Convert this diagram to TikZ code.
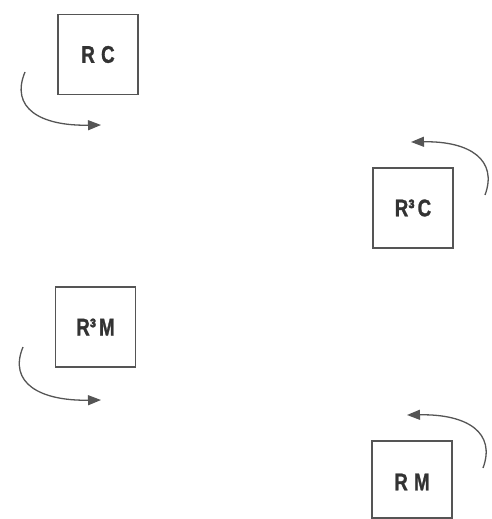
\documentclass[tikz,border=0pt]{standalone}
\usepackage{fontspec}
\setmainfont{Liberation Sans}
\newfontfamily\heavyfont{Liberation Sans Bold}[FakeBold=1.5]
\usetikzlibrary{arrows.meta}
\definecolor{boxgray}{HTML}{555555}
\definecolor{txtgray}{HTML}{333333}
\definecolor{arrgray}{HTML}{555555}
\tikzset{
  lbl/.style={text=txtgray, font=\heavyfont\fontsize{24}{28}\selectfont},
  sqbox/.style={lbl, draw=boxgray, line width=1.8pt, minimum width=80pt, minimum height=80pt, inner sep=0pt},
  turn/.style={draw=arrgray, line width=1.3pt, -{Triangle[length=13pt,width=10pt]}}
}
\begin{document}
\begin{tikzpicture}[x=1pt,y=-1pt]
\useasboundingbox (0,0) rectangle (491,519);
\node[sqbox] (rc) at (98,54.5) {\scalebox{0.78}[1]{R\,\,C}};
\node[sqbox] (r3c) at (413,208) {\scalebox{0.78}[1]{R³\,C}};
\node[sqbox] (r3m) at (95.5,327) {\scalebox{0.78}[1]{R³\,M}};
\draw[boxgray, line width=1.8pt] (372,518) -- (372,441) -- (452,441) -- (452,518) -- cycle;
\node[lbl] (rm) at (412,482) {\scalebox{0.78}[1]{R\,\,M}};
\coordinate (a1s) at (25,72);
\coordinate (a1e) at (101,125);
\coordinate (a2s) at (485,195);
\coordinate (a2e) at (411,142);
\coordinate (a3s) at (23,347);
\coordinate (a3e) at (101,400);
\coordinate (a4s) at (483,468);
\coordinate (a4e) at (407,415);
\draw[turn] (a1s) .. controls (10,108) and (40,126) .. (a1e);
\draw[turn] (a3s) .. controls (8,383) and (40,401) .. (a3e);
\draw[turn] (a2s) .. controls (498,160) and (470,141) .. (a2e);
\draw[turn] (a4s) .. controls (496,433) and (468,414) .. (a4e);
\end{tikzpicture}
\end{document}
